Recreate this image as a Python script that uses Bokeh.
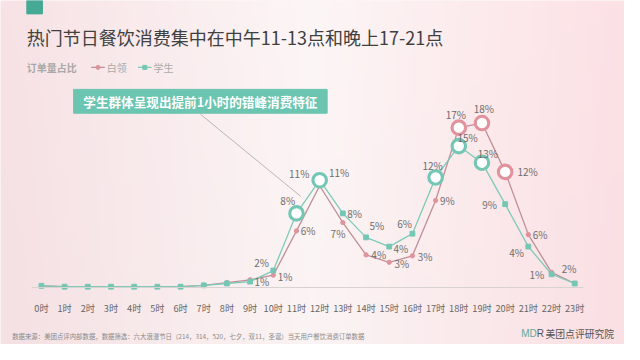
import numpy as np
from bokeh.plotting import figure
from bokeh.models import Range1d, FixedTicker, LinearAxis, ColumnDataSource
from bokeh.core.properties import value
from bokeh.embed import file_html
from bokeh.resources import INLINE

# ---------------- data ----------------
hours = list(range(24))
hour_labels = [f"{h}时" for h in hours]
white_collar = [0.15, 0.05, 0.05, 0.05, 0.05, 0.05, 0.05, 0.2, 0.5, 0.8, 1.3, 6.1, 11.0, 7.0,
                3.5, 2.7, 3.4, 9.4, 17.3, 17.8, 12.5, 5.7, 1.6, 0.4]
student = [0.15, 0.05, 0.05, 0.05, 0.05, 0.05, 0.05, 0.2, 0.4, 0.6, 1.8, 8.0, 11.6, 8.0,
           5.4, 4.4, 5.8, 11.9, 15.3, 13.5, 9.0, 4.4, 1.4, 0.4]
white_text = ["", "", "", "", "", "", "", "", "", "", "1%", "6%", "11%", "7%",
              "4%", "3%", "3%", "9%", "17%", "18%", "12%", "6%", "2%", ""]
student_text = ["", "", "", "", "", "", "", "", "", "1%", "2%", "8%", "11%", "8%",
                "5%", "4%", "6%", "12%", "15%", "13%", "9%", "4%", "1%", ""]
white_highlight = [18, 19, 20]
student_highlight = [11, 12, 17, 18, 19]
series_names = ["白领", "学生"]
title_text = "热门节日餐饮消费集中在中午11-13点和晚上17-21点"
legend_title = "订单量占比"
callout_text = "学生群体呈现出提前1小时的错峰消费特征"
footer_text = "数据来源：美团点评内部数据，数据筛选：六大浪漫节日（214，314，520，七夕，双11，圣诞）当天用户餐饮消费订单数据"
brand_text = "美团点评研究院"

# label offsets (reference pixels)
white_dx = [0]*10 + [12, 12, -21, -5, 13, 13, 13, 12, -3, 2, 23, 12, 18, 0]
white_dy = [0]*10 + [1, 0, -13, 11, 0, 1, 1, 0, -14, -15, 0, 0, -4, 0]
student_dx = [0]*9 + [12, -12, -9, 20, 12, 11, 12, -8, -3, 9, 6, -16, -12, -15, 0]
student_dy = [0]*9 + [0, -8, -14, -8, 0, -12, 2, -11, -13, -9, -10, 0, 6, 0, 0]

# ---------------- layout helpers ----------------
W, H = 624, 344
REF_W, REF_H = 640, 360
SX, SY = W / REF_W, H / REF_H
X0_PX, STEP = 42.0, 23.78
Y0_PX, PX_PER = 300.0, 9.65


def X(px):
    return (px - X0_PX) / STEP


def Y(py):
    return (Y0_PX - py) / PX_PER


FONT = value("Noto Sans CJK SC")
PINK = "#e0939d"
PINK_LINE = "#bf8f98"
TEAL = "#74c7b4"
TEAL_LINE = "#7fcab9"

p = figure(width=W, height=H, output_backend="svg", toolbar_location=None,
           x_range=Range1d(X(0), X(REF_W)), y_range=Range1d(Y(REF_H), Y(0)),
           min_border=0, x_axis_location=None, y_axis_location=None)
p.outline_line_color = None
p.grid.visible = False
p.background_fill_color = "#fbeff0"
p.border_fill_color = "#fbeff0"

# background gradient
ncol, nrow = 160, 40
stops_x = np.array([0.0, 0.5, 1.0])
cols = np.array([[247, 226, 229], [253, 246, 246], [252, 225, 229]], dtype=float)
img = np.zeros((nrow, ncol), dtype=np.uint32)
view = img.view(dtype=np.uint8).reshape((nrow, ncol, 4))
tx = np.linspace(0, 1, ncol)
for c in range(3):
    row = np.interp(tx, stops_x, cols[:, c])
    for r in range(nrow):
        ty = r / (nrow - 1)  # 0 bottom, 1 top
        shade = row + (1 - ty) * (-2.0)
        view[r, :, c] = np.clip(shade, 0, 255).astype(np.uint8)
view[:, :, 3] = 255
p.image_rgba(image=[img], x=X(0), y=Y(REF_H), dw=X(REF_W) - X(0), dh=Y(0) - Y(REF_H))

# axis
ax = LinearAxis(fixed_location=0, ticker=FixedTicker(ticks=hours),
                major_label_overrides={h: lab for h, lab in zip(hours, hour_labels)})
ax.axis_line_color = "#d9d2d3"
ax.axis_line_width = 1
ax.major_tick_line_color = None
ax.minor_tick_line_color = None
ax.major_label_text_font = "Noto Sans CJK SC"
ax.major_label_text_font_size = "9.2px"
ax.major_label_text_color = "#666666"
ax.major_label_standoff = 8
ax.bounds = (X(32), X(598))
p.add_layout(ax, "below")

# lines
p.line(hours, white_collar, color=PINK_LINE, line_width=1.3)
p.line(hours, student, color=TEAL_LINE, line_width=1.3)

wx = [h for h in hours if h not in white_highlight]
p.scatter(wx, [white_collar[h] for h in wx], marker="circle", size=4.3, color=PINK)
sx = [h for h in hours if h not in student_highlight]
p.scatter(sx, [student[h] for h in sx], marker="square", size=4.8, color=TEAL)

p.scatter(white_highlight, [white_collar[h] for h in white_highlight], marker="circle", size=13.5,
          fill_color="white", line_color=PINK, line_width=3.1)
p.scatter(student_highlight, [student[h] for h in student_highlight], marker="circle", size=13.5,
          fill_color="white", line_color=TEAL, line_width=3.1)

# data labels
wl = ColumnDataSource(dict(x=hours, y=white_collar, t=white_text,
                           dx=[d * SX for d in white_dx], dy=[d * SY for d in white_dy]))
sl = ColumnDataSource(dict(x=hours, y=student, t=student_text,
                           dx=[d * SX for d in student_dx], dy=[d * SY for d in student_dy]))
for src in (wl, sl):
    p.text(x="x", y="y", text="t", x_offset="dx", y_offset="dy", source=src,
           text_font=FONT, text_font_size="10px", text_color="#6e6e6e",
           text_align="center", text_baseline="middle")

# top-left accent
p.quad(left=X(27), right=X(43), top=Y(0), bottom=Y(14), color="#45a995")

# title
p.text(x=[X(27)], y=[Y(38)], text=[title_text], text_font=FONT, text_font_size="18px",
       text_color="#404040", text_align="left", text_baseline="middle")

# legend
p.text(x=[X(27)], y=[Y(70)], text=[legend_title], text_font=FONT, text_font_size="10px",
       text_font_style="bold", text_color="#a8a8a8", text_align="left", text_baseline="middle")
p.segment(x0=[X(93)], y0=[Y(70)], x1=[X(107)], y1=[Y(70)], color=PINK_LINE, line_width=1.2)
p.scatter([X(100)], [Y(70)], marker="circle", size=4, color=PINK)
p.text(x=[X(109)], y=[Y(70)], text=[series_names[0]], text_font=FONT, text_font_size="10px",
       text_color="#aaaaaa", text_align="left", text_baseline="middle")
p.segment(x0=[X(141)], y0=[Y(70)], x1=[X(155)], y1=[Y(70)], color=TEAL_LINE, line_width=1.2)
p.scatter([X(148)], [Y(70)], marker="square", size=4, color=TEAL)
p.text(x=[X(157)], y=[Y(70)], text=[series_names[1]], text_font=FONT, text_font_size="10px",
       text_color="#aaaaaa", text_align="left", text_baseline="middle")

# callout
p.segment(x0=[X(205)], y0=[Y(119)], x1=[X(308)], y1=[Y(205)], color="#b0b0b0", line_width=0.9)
p.quad(left=X(75), right=X(335), top=Y(93), bottom=Y(118), color="#6cc5b1")
p.text(x=[X(205)], y=[Y(106)], text=[callout_text], text_font=FONT, text_font_size="12.6px",
       text_font_style="bold", text_color="white", text_align="center", text_baseline="middle")

# footer
p.text(x=[X(12)], y=[Y(352)], text=[footer_text], text_font=FONT, text_font_size="6.4px",
       text_color="#8a8a8a", text_align="left", text_baseline="middle")
p.text(x=[X(534)], y=[Y(349)], text=["MD"], text_font=value("Liberation Sans"),
       text_font_size="10px", text_color="#5fab9c", text_align="left", text_baseline="middle")
p.text(x=[X(550)], y=[Y(349)], text=["R"], text_font=value("Liberation Sans"),
       text_font_size="10px", text_color="#555555", text_align="left", text_baseline="middle")
p.text(x=[X(559)], y=[Y(349)], text=[brand_text], text_font=FONT, text_font_size="9.8px",
       text_color="#555555", text_align="left", text_baseline="middle")

open("out.html", "w").write(file_html(p, INLINE))
